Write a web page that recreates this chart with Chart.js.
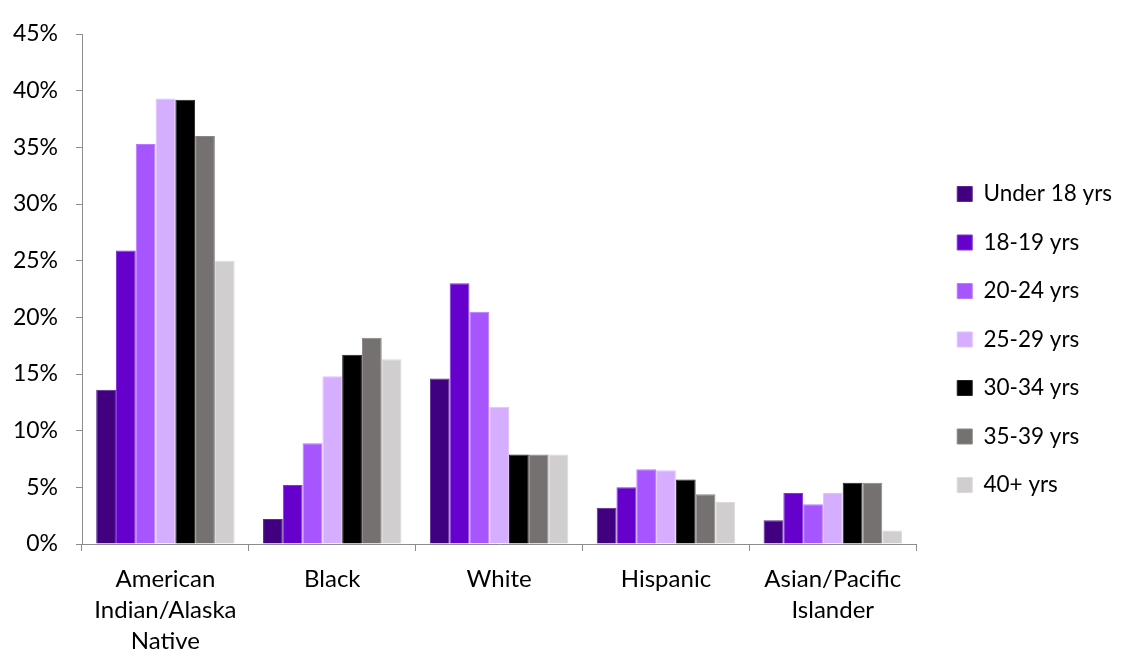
<!DOCTYPE html>
<html>
<head>
<meta charset="utf-8">
<script src="https://cdn.jsdelivr.net/npm/chart.js@4/dist/chart.umd.min.js"></script>
<style>
  html, body { margin: 0; padding: 0; background: #ffffff; }
  #wrap { width: 1124px; height: 659px; position: relative; }
</style>
</head>
<body>
<div id="wrap"><canvas id="chart"></canvas></div>
<script>
// Groups along the x axis
const categories = [
  ["American", "Indian/Alaska", "Native"],
  "Black",
  "White",
  "Hispanic",
  ["Asian/Pacific", "Islander"]
];

// Age bands (one series each), values in percent
const ageBands = ["Under 18 yrs", "18-19 yrs", "20-24 yrs", "25-29 yrs", "30-34 yrs", "35-39 yrs", "40+ yrs"];
const under18  = [13.6,  2.2, 14.6, 3.2, 2.1];
const age18_19 = [25.9,  5.2, 23.0, 5.0, 4.5];
const age20_24 = [35.3,  8.9, 20.5, 6.6, 3.5];
const age25_29 = [39.3, 14.8, 12.1, 6.5, 4.5];
const age30_34 = [39.2, 16.7,  7.9, 5.7, 5.4];
const age35_39 = [36.0, 18.2,  7.9, 4.4, 5.4];
const age40up  = [25.0, 16.3,  7.9, 3.7, 1.2];

// y-axis tick values
const yTicks = [0, 5, 10, 15, 20, 25, 30, 35, 40, 45];

const seriesValues = [under18, age18_19, age20_24, age25_29, age30_34, age35_39, age40up];
const fills   = ["#400080", "#6600CC", "#A655FF", "#D6AEFF", "#000000", "#767171", "#D0CECE"];
const borders = ["#5a2a95", "#8233d9", "#b97aff", "#e0c2ff", "#222222", "#8a8686", "#dcdada"];

const FONT = "Lato, 'Open Sans', sans-serif";

new Chart(document.getElementById("chart"), {
  type: "bar",
  data: {
    labels: categories,
    datasets: ageBands.map((name, i) => ({
      label: name,
      data: seriesValues[i],
      backgroundColor: fills[i],
      borderColor: borders[i],
      borderWidth: 1,
      borderSkipped: "bottom",
      categoryPercentage: 0.83,
      barPercentage: 1.0
    }))
  },
  options: {
    responsive: true,
    maintainAspectRatio: false,
    animation: false,
    layout: { padding: { top: 34, left: 12, right: 2, bottom: 0 } },
    plugins: {
      tooltip: { enabled: false },
      legend: {
        position: "right",
        align: "start",
        maxWidth: 240,
        // blank title used as a spacer above the legend entries
        title: {
          display: true,
          text: "",
          font: { family: FONT, size: 12, lineHeight: 1 },
          padding: { top: 110.75, bottom: 0 }
        },
        labels: {
          boxWidth: 15,
          boxHeight: 15,
          padding: 26,
          color: "#000000",
          font: { family: FONT, size: 22.5 }
        }
      }
    },
    scales: {
      x: {
        grid: {
          display: true,
          offset: true,
          drawOnChartArea: false,
          drawTicks: true,
          tickLength: 7,
          color: "#8c8c8c",
          lineWidth: 1
        },
        border: { display: true, color: "#8c8c8c", width: 1 },
        ticks: {
          color: "#000000",
          font: { family: FONT, size: 24, lineHeight: 1.29 },
          padding: 12.5,
          maxRotation: 0,
          autoSkip: false
        },
        afterFit: (s) => { s.height = 115; }
      },
      y: {
        min: 0,
        max: 45,
        afterBuildTicks: (axis) => { axis.ticks = yTicks.map(v => ({ value: v })); },
        grid: {
          display: true,
          drawOnChartArea: false,
          drawTicks: true,
          tickLength: 6,
          color: "#8c8c8c",
          lineWidth: 1
        },
        border: { display: true, color: "#8c8c8c", width: 1 },
        ticks: {
          color: "#000000",
          font: { family: FONT, size: 23 },
          padding: 18,
          callback: (v) => v + "%"
        },
        afterFit: (s) => { s.width = 70; }
      },
      // empty gap between the plot and the legend
      gap: {
        type: "linear",
        position: "right",
        display: true,
        grid: { display: false },
        border: { display: false },
        ticks: { display: false },
        afterFit: (s) => { s.width = 15; }
      }
    }
  }
});
</script>
</body>
</html>
